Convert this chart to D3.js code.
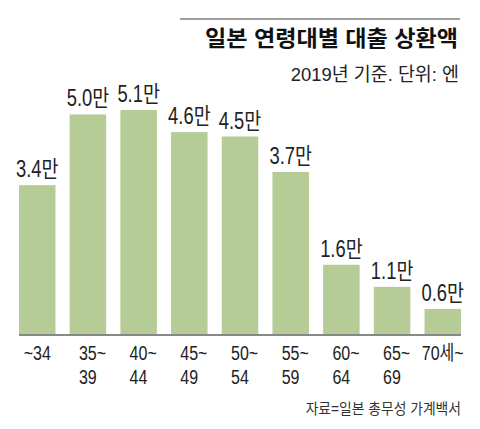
<!DOCTYPE html>
<html>
<head>
<meta charset="utf-8">
<script src="https://cdn.jsdelivr.net/npm/d3@7"></script>
<style>
  html, body { margin: 0; padding: 0; background: #fff; }
  svg { display: block; }
</style>
</head>
<body>
<svg id="chart"></svg>
<script>
// age groups (two lines each) and repayment, unit: 10k yen
const ageLine1 = ["~34", "35~", "40~", "45~", "50~", "55~", "60~", "65~", "70세~"];
const ageLine2 = ["", "39", "44", "49", "54", "59", "64", "69", ""];
const repay = [3.4, 5.0, 5.1, 4.6, 4.5, 3.7, 1.6, 1.1, 0.6];

const title = "일본 연령대별 대출 상환액";
const subtitle = "2019년 기준. 단위: 엔";
const source = "자료=일본 총무성 가계백서";

const svgWidth = 480;
const svgHeight = 429;
const margin = { left: 19, right: 19, top: 110, bottom: 94 };
const font = "'Liberation Sans', 'Noto Sans CJK KR', sans-serif";

const svg = d3.select("#chart").attr("width", svgWidth).attr("height", svgHeight);

// condensed look: scale text horizontally around its anchor point
function addText(x, y, str, size, sx, anchor, opts = {}) {
  return svg.append("text")
    .attr("transform", `translate(${x},${y}) scale(${sx},1)`)
    .attr("text-anchor", anchor)
    .style("font-family", font)
    .style("font-size", size + "px")
    .style("font-weight", opts.bold ? "bold" : "normal")
    .attr("fill", opts.fill || "#222")
    .text(str);
}

const x = d3.scaleBand()
  .domain(ageLine1)
  .range([margin.left, svgWidth - margin.right])
  .paddingInner(0.28)
  .paddingOuter(0);

const baseY = svgHeight - margin.bottom + 0.5;
const y = d3.scaleLinear().domain([0, 5.1]).range([baseY, margin.top]);

// header rule, title, subtitle
svg.append("line").attr("x1", 180).attr("x2", 460).attr("y1", 19).attr("y2", 19)
  .attr("stroke", "#808080").attr("stroke-width", 1.5);
addText(458, 46, title, 22, 1.05, "end", { bold: true, fill: "#111" });
addText(459, 81, subtitle, 19, 0.97, "end");

// bars
svg.append("g").selectAll("rect").data(repay).enter().append("rect")
  .attr("x", (d, i) => x(ageLine1[i]))
  .attr("y", d => y(d))
  .attr("width", x.bandwidth())
  .attr("height", d => baseY - y(d))
  .attr("fill", "#b6cc96");

// value labels
repay.forEach((d, i) => {
  addText(x(ageLine1[i]) + x.bandwidth() / 2, y(d) - 8, d.toFixed(1) + "만", 23, 0.8, "middle");
});

// baseline
svg.append("line").attr("x1", margin.left).attr("x2", svgWidth - margin.right)
  .attr("y1", baseY - 0.5).attr("y2", baseY - 0.5)
  .attr("stroke", "#888").attr("stroke-width", 2);

// category labels
ageLine1.forEach((lab, i) => {
  const cx = x(lab) + x.bandwidth() / 2;
  if (ageLine2[i]) {
    addText(cx - 9, 360, lab, 20, 0.8, "start");
    addText(cx - 9, 384, ageLine2[i], 20, 0.8, "start");
  } else {
    addText(cx, 360, lab, 20, 0.8, "middle");
  }
});

// source
addText(461, 414, source, 15, 0.92, "end", { fill: "#333" });
</script>
</body>
</html>
